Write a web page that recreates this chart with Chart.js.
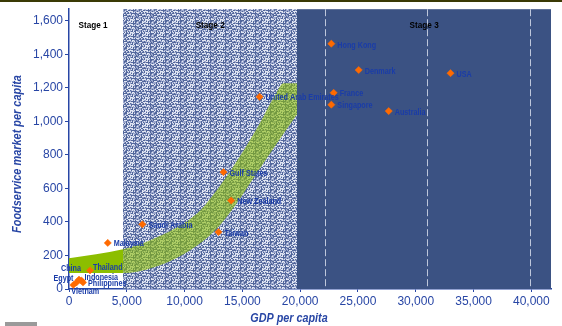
<!DOCTYPE html>
<html><head><meta charset="utf-8">
<script src="https://cdn.jsdelivr.net/npm/chart.js@4.4.1/dist/chart.umd.min.js"></script>
<style>html,body{margin:0;padding:0;background:#fff}#wrap{width:562px;height:326px;position:relative}</style>
</head><body><div id="wrap"><canvas id="c"></canvas></div>
<script>
// ---- data ----
const categories = ['Vietnam','Egypt','China','Indonesia','Philippines','Thailand','Malaysia','Saudi Arabia','Taiwan','New Zealand','Gulf States','United Arab Emirates','Hong Kong','Denmark','USA','France','Singapore','Australia'];
const gdpPerCapita = [373,650,866,1083,1213,1819,3353,6350,12932,14032,13367,16486,22697,25062,33006,22896,22697,27661];
const foodservicePerCapita = [24,39,56,50,39,111,275,386,340,528,698,1147,1464,1307,1288,1171,1100,1062];
const bandUpperX = [0,4678,7017,9183,11349,13081,14814,16373,18019,18539,19752];
const bandUpperY = [184,237,291,362,469,617,795,973,1181,1228,1228];
const bandLowerX = [0,4678,7883,10482,12648,14381,16113,17846,19752];
const bandLowerY = [95,95,142,231,350,499,677,855,1045];
const stageNames = ['Stage 1','Stage 2','Stage 3'];
const stageBounds = [0,4680,19750,41700];
const stage3Lines = [22180,31010,39850];
const xTickValues = [0,5000,10000,15000,20000,25000,30000,35000,40000];
const yTickValues = [0,200,400,600,800,1000,1200,1400,1600];
const xTitle = 'GDP per capita';
const yTitle = 'Foodservice market per capita';

// ---- styling ----
const BLUE = '#2846A5';
const LABEL = '#1A3CA8';
const GREEN = '#8CBE00';
const STAGE3 = '#3B5283';
const FONT = '"Liberation Sans", Arial, sans-serif';

function hash(x,y){let n=Math.imul(x,374761393)+Math.imul(y,668265263);n=Math.imul(n^(n>>>13),1274126177);n^=n>>>16;return (n>>>0)/4294967296;}
function makePattern(){
  const W=15,H=13,cv=document.createElement('canvas');cv.width=W;cv.height=H;
  const g=cv.getContext('2d'),img=g.createImageData(W,H);
  for(let y=0;y<H;y++)for(let x=0;x<W;x++){
    const r=hash(x+3,y+7);let c;
    if(x===0||y===0) c=r<0.75?[84,104,158]:[160,172,206];
    else if(r<0.32) c=[82,102,156];
    else if(r<0.6) c=[155,168,204];
    else c=[226,231,243];
    const i=(y*W+x)*4;img.data[i]=c[0];img.data[i+1]=c[1];img.data[i+2]=c[2];img.data[i+3]=255;
  }
  g.putImageData(img,0,0);
  return cv;
}
const patCanvas = makePattern();

const labelPlace = {
  'China':{dx:2,dy:-11,align:'right'},
  'Egypt':{dx:-3,dy:-4,align:'right'},
  'Vietnam':{dx:-2,dy:7,align:'left'},
  'Indonesia':{dx:3,dy:-3.5,align:'left'},
  'Philippines':{dx:5,dy:1.5,align:'left'},
  'Thailand':{dx:3,dy:-3,align:'left'},
  'Hong Kong':{dx:6,dy:2,align:'left'}
};

function narrowText(ctx,text,x,y,sx,align){
  ctx.save();ctx.translate(x,y);ctx.scale(sx,1);ctx.textAlign=align||'left';ctx.fillText(text,0,0);ctx.restore();
}

const stagePlugin = {
  id:'stages',
  beforeDatasetsDraw(chart){
    const {ctx,chartArea:a,scales:{x}}=chart;
    const pat=ctx.createPattern(patCanvas,'repeat');
    const x1=Math.round(x.getPixelForValue(stageBounds[1])),x2=Math.round(x.getPixelForValue(stageBounds[2]));
    ctx.save();ctx.fillStyle=pat;ctx.fillRect(x1,a.top,x2-x1,a.bottom-a.top);ctx.restore();
  },
  afterDatasetDraw(chart,args){
    if(args.index!==2) return;
    const {ctx,chartArea:a,scales:{x}}=chart;
    const pat=ctx.createPattern(patCanvas,'repeat');
    const x1=Math.round(x.getPixelForValue(stageBounds[1])),x2=Math.round(x.getPixelForValue(stageBounds[2]));
    const x3=Math.round(x.getPixelForValue(stageBounds[3]));
    ctx.save();
    ctx.globalAlpha=0.42;ctx.fillStyle=pat;ctx.fillRect(x1,a.top,x2-x1,a.bottom-a.top);
    ctx.globalAlpha=1;ctx.fillStyle=STAGE3;ctx.fillRect(x2,a.top,x3-x2,a.bottom-a.top);
    ctx.strokeStyle='rgba(205,212,228,0.9)';ctx.lineWidth=1;ctx.setLineDash([7,3]);
    stage3Lines.forEach(v=>{const px=Math.round(x.getPixelForValue(v))+0.5;ctx.beginPath();ctx.moveTo(px,a.top);ctx.lineTo(px,a.bottom);ctx.stroke();});
    ctx.restore();
  },
  afterDatasetsDraw(chart){
    const {ctx,chartArea:a,scales:{x}}=chart;
    const meta=chart.getDatasetMeta(0);
    ctx.save();
    ctx.fillStyle=LABEL;ctx.font='bold 9px '+FONT;ctx.textBaseline='middle';
    meta.data.forEach((pt,i)=>{
      const name=categories[i];const p=labelPlace[name]||{dx:6,dy:1,align:'left'};
      narrowText(ctx,name,pt.x+p.dx,pt.y+p.dy,0.8,p.align);
    });
    ctx.fillStyle='#000';ctx.font='bold 9.5px '+FONT;
    for(let s=0;s<3;s++){
      const l=x.getPixelForValue(stageBounds[s]),r=x.getPixelForValue(stageBounds[s+1]);
      const cx = s===0 ? l+24 : (l+r)/2;
      narrowText(ctx,stageNames[s],cx,a.top+16,0.86,'center');
    }
    ctx.restore();
  },
  afterDraw(chart){
    const {ctx}=chart;
    ctx.save();
    ctx.fillStyle=BLUE;ctx.font='italic bold 12px '+FONT;ctx.textBaseline='middle';
    narrowText(ctx,xTitle,289,319,0.9,'center');
    ctx.save();ctx.translate(18,154);ctx.rotate(-Math.PI/2);ctx.scale(0.91,1);ctx.textAlign='center';ctx.fillText(yTitle,0,0);ctx.restore();
    ctx.fillStyle='#3A3A05';ctx.fillRect(0,0,562,2);
    ctx.fillStyle='#9a9a9a';ctx.fillRect(5,322,32,4);
    ctx.restore();
  }
};

const ctx=document.getElementById('c');
new Chart(ctx,{
  type:'scatter',
  data:{datasets:[
    {label:'Countries',data:categories.map((c,i)=>({x:gdpPerCapita[i],y:foodservicePerCapita[i]})),
     pointStyle:'rectRot',pointRadius:3.6,backgroundColor:'#FF6A00',borderColor:'#FF6A00',borderWidth:0.5,order:0},
    {label:'bandUpper',data:bandUpperX.map((v,i)=>({x:v,y:bandUpperY[i]})),showLine:true,pointRadius:0,borderWidth:0,
     borderColor:'rgba(0,0,0,0)',backgroundColor:GREEN,fill:'+1',cubicInterpolationMode:'monotone',order:2},
    {label:'bandLower',data:bandLowerX.map((v,i)=>({x:v,y:bandLowerY[i]})),showLine:true,pointRadius:0,borderWidth:0,
     borderColor:'rgba(0,0,0,0)',backgroundColor:GREEN,fill:false,cubicInterpolationMode:'monotone',order:1}
  ]},
  options:{
    responsive:true,maintainAspectRatio:false,animation:false,devicePixelRatio:1,events:[],
    layout:{padding:{top:7,right:11,bottom:0,left:0}},
    plugins:{legend:{display:false},tooltip:{enabled:false}},
    scales:{
      x:{type:'linear',min:stageBounds[0],max:stageBounds[3],z:1,
         afterFit(s){s.height=37;},
         afterBuildTicks(s){s.ticks=xTickValues.map(v=>({value:v}));},
         ticks:{color:BLUE,font:{size:12,family:FONT},padding:2,maxRotation:0,autoSkip:false,callback:v=>v.toLocaleString('en-US')},
         grid:{drawOnChartArea:false,drawTicks:true,tickLength:3,color:BLUE},
         border:{display:true,color:BLUE,width:1.5}},
      y:{min:0,max:1670,z:1,
         afterFit(s){s.width=69;},
         afterBuildTicks(s){s.ticks=yTickValues.map(v=>({value:v}));},
         ticks:{color:BLUE,font:{size:12,family:FONT},padding:2,autoSkip:false,callback:v=>v.toLocaleString('en-US')},
         grid:{drawOnChartArea:false,drawTicks:true,tickLength:4,color:BLUE},
         border:{display:true,color:BLUE,width:1.5}}
    }
  },
  plugins:[stagePlugin]
});
</script></body></html>
